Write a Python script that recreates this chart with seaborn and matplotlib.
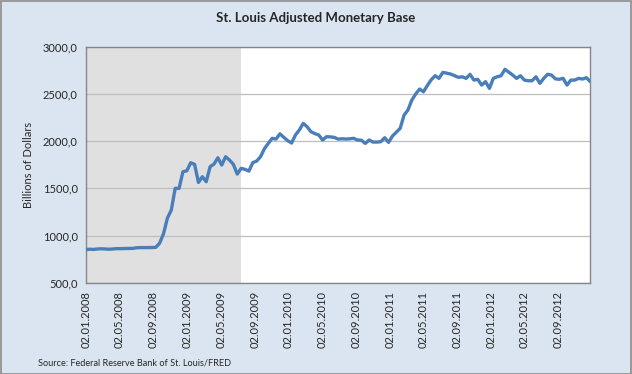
import numpy as np
import pandas as pd
import seaborn as sns
import matplotlib
matplotlib.use("Agg")
import matplotlib.pyplot as plt
import matplotlib.dates as mdates
from matplotlib.ticker import FuncFormatter
from matplotlib.patches import Rectangle

# biweekly adjusted monetary base, billions of dollars, starting 02.01.2008
start_date = "2008-01-02"
base = [
    852, 855, 853, 858, 860, 857, 855, 858, 861, 862,
    862, 863, 864, 870, 872, 872, 872, 873, 875, 920,
    1020, 1185, 1270, 1500, 1500, 1676, 1686, 1771, 1754, 1563,
    1623, 1570, 1729, 1757, 1824, 1747, 1835, 1800, 1754, 1651,
    1712, 1701, 1683, 1772, 1789, 1835, 1920, 1976, 2030, 2022,
    2078, 2040, 2005, 1980, 2065, 2118, 2188, 2153, 2100, 2080,
    2065, 2012, 2047, 2045, 2040, 2022, 2025, 2022, 2025, 2030,
    2012, 2010, 1976, 2012, 1990, 1990, 1994, 2036, 1987, 2054,
    2095, 2136, 2276, 2330, 2435, 2500, 2552, 2523, 2590, 2650,
    2693, 2665, 2729, 2720, 2711, 2693, 2676, 2682, 2665, 2708,
    2647, 2655, 2594, 2630, 2559, 2665, 2682, 2693, 2761, 2730,
    2700, 2665, 2693, 2647, 2640, 2640, 2682, 2612, 2665, 2708,
    2700, 2660, 2655, 2665, 2594, 2647, 2647, 2665, 2658, 2672,
    2630,
]
recession_end = "2009-07-15"
title = "St. Louis Adjusted Monetary Base"
ylabel = "Billions of Dollars"
source = "Source: Federal Reserve Bank of St. Louis/FRED"

df = pd.DataFrame({
    "date": pd.date_range(start_date, periods=len(base), freq="14D"),
    "base": base,
})

sns.set_style("white")
plt.rcParams["font.family"] = ["Lato", "DejaVu Sans"]

bg = "#DBE5F1"
fig = plt.figure(figsize=(6.32, 3.74), dpi=100, facecolor=bg)
ax = fig.add_axes([0.136, 0.244, 0.798, 0.631])
ax.set_facecolor("white")

ax.axvspan(df["date"].iloc[0], pd.Timestamp(recession_end), color="#E0E0E0", zorder=0.2, lw=0)
sns.lineplot(data=df, x="date", y="base", ax=ax, color="#4A7EBB", lw=2.4, zorder=3)

ax.set_ylim(500, 3000)
ax.set_yticks(np.arange(500, 3001, 500))
ax.yaxis.set_major_formatter(FuncFormatter(lambda v, p: f"{v:.1f}".replace(".", ",")))
ax.set_xlim(df["date"].iloc[0], df["date"].iloc[-1])
ax.xaxis.set_major_locator(mdates.MonthLocator(bymonth=[1, 5, 9], bymonthday=2))
ax.xaxis.set_major_formatter(mdates.DateFormatter("%d.%m.%Y"))

ax.grid(axis="y", color="#BEBEBE", lw=0.9)
ax.set_axisbelow(True)
for s in ax.spines.values():
    s.set_color("#868686")
    s.set_linewidth(1)
ax.tick_params(axis="y", length=4, width=1, color="#868686", labelsize=8, pad=2)
ax.tick_params(axis="x", length=0, labelsize=8, pad=6, labelrotation=90)
ax.set_xlabel("")
ax.set_ylabel(ylabel, fontsize=8, labelpad=6)

fig.text(0.5, 0.952, title, ha="center", va="center", fontsize=9.5, fontweight="bold")
fig.text(0.06, 0.03, source, ha="left", va="center", fontsize=6.6)
fig.patches.append(Rectangle((0.001, 0.001), 0.997, 0.996, transform=fig.transFigure,
                             fill=False, edgecolor="#8C8C8C", lw=1.2))

fig.savefig("out.png", dpi=100, facecolor=bg)
